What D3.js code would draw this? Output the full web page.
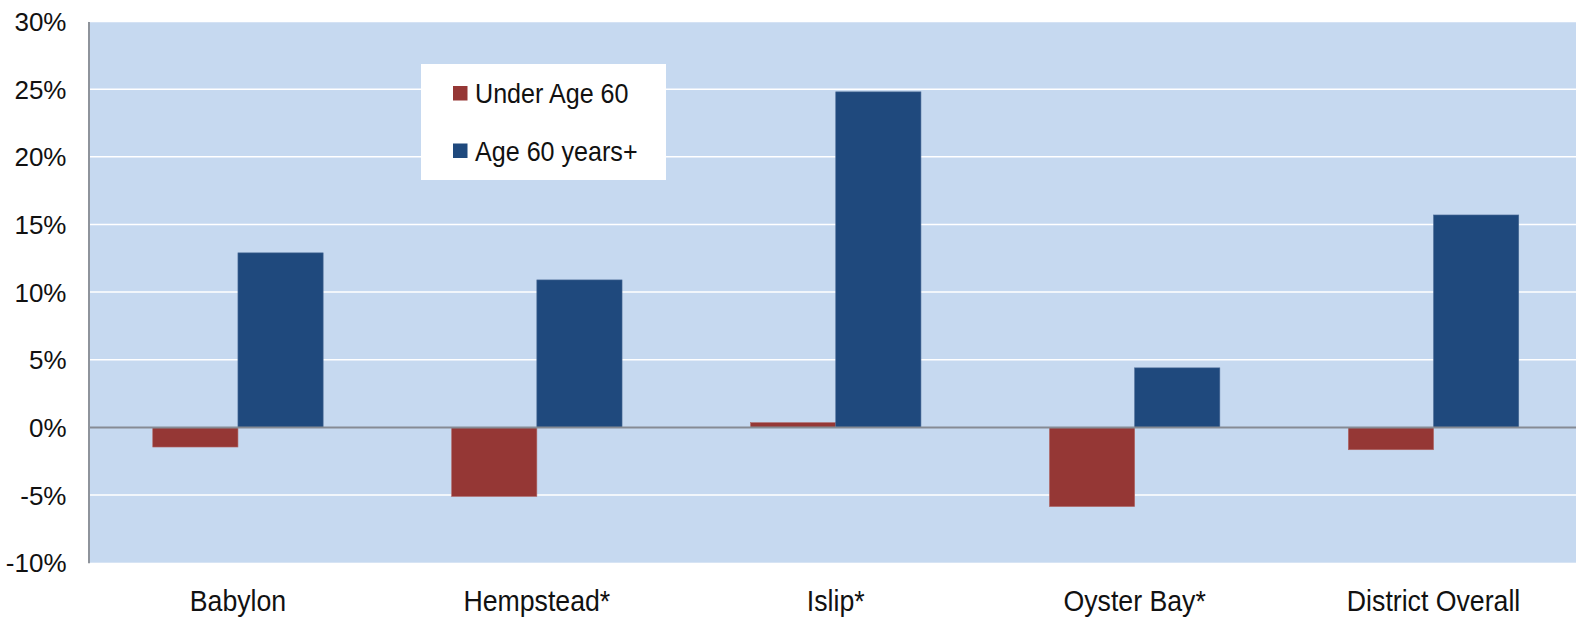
<!DOCTYPE html>
<html>
<head>
<meta charset="utf-8">
<script src="https://cdn.jsdelivr.net/npm/d3@7"></script>
<style>
  body { margin: 0; background: #fff; }
  svg text { font-family: "Liberation Sans", Arial, sans-serif; fill: #111; }
</style>
</head>
<body>
<div id="chart"></div>
<script>
// Data
var categories = ["Babylon", "Hempstead*", "Islip*", "Oyster Bay*", "District Overall"];
var seriesNames = ["Under Age 60", "Age 60 years+"];
var underAge60 = [-1.45, -5.1, 0.35, -5.85, -1.65];
var age60Plus = [12.9, 10.9, 24.8, 4.4, 15.7];
var yTicks = [-10, -5, 0, 5, 10, 15, 20, 25, 30];
var colors = ["#953735", "#1f497d"];

var width = 1576, height = 618;
var margin = {top: 21.5, right: -7, bottom: 55.3, left: 88.5};
var innerW = width - margin.left - margin.right;
var innerH = height - margin.top - margin.bottom;

var svg = d3.select('#chart').append('svg')
    .attr('width', width)
    .attr('height', height);

var graph = svg.append('g')
    .attr('transform', 'translate(' + margin.left + ',' + margin.top + ')');

var x = d3.scaleBand()
    .domain(categories)
    .range([0, innerW]);

var inner = d3.scaleBand()
    .domain(seriesNames)
    .range([x.bandwidth() * 0.215, x.bandwidth() * 0.785]);

var y = d3.scaleLinear()
    .domain([-10, 30])
    .range([innerH, 0]);

// Plot background
graph.append('rect')
    .attr('width', innerW)
    .attr('height', innerH)
    .attr('fill', '#c6d9f0');

// Gridlines
graph.append('g')
    .selectAll('line')
    .data(yTicks.filter(function(d) { return d !== 0 && d !== -10; }))
    .enter()
    .append('line')
    .attr('x1', 0).attr('x2', innerW)
    .attr('y1', function(d) { return y(d); })
    .attr('y2', function(d) { return y(d); })
    .attr('stroke', '#fff')
    .attr('stroke-width', 1.5);

// Bars
var rows = categories.map(function(c, i) {
    return {cat: c, values: [underAge60[i], age60Plus[i]]};
});

var groups = graph.selectAll('g.cat')
    .data(rows)
    .enter()
    .append('g')
    .attr('class', 'cat')
    .attr('transform', function(d) { return 'translate(' + x(d.cat) + ',0)'; });

groups.selectAll('rect')
    .data(function(d) {
        return d.values.map(function(v, j) { return {name: seriesNames[j], v: v, j: j}; });
    })
    .enter()
    .append('rect')
    .attr('x', function(d) { return inner(d.name); })
    .attr('width', inner.bandwidth())
    .attr('y', function(d) { return y(Math.max(0, d.v)); })
    .attr('height', function(d) { return Math.abs(y(d.v) - y(0)); })
    .attr('fill', function(d) { return colors[d.j]; })
    .attr('stroke', function(d) { return d.j === 0 ? '#b06563' : '#4a6b96'; })
    .attr('stroke-width', 0.6);

// Zero line
graph.append('line')
    .attr('x1', 0).attr('x2', innerW)
    .attr('y1', y(0)).attr('y2', y(0))
    .attr('stroke', '#868b94')
    .attr('stroke-width', 2);

// Y axis
var yAxis = d3.axisLeft(y)
    .tickValues(yTicks)
    .tickSize(0)
    .tickPadding(22)
    .tickFormat(function(d) { return d + '%'; });

var yG = graph.append('g').call(yAxis);
yG.select('.domain').attr('stroke', '#8e939b').attr('stroke-width', 2);
yG.selectAll('text')
    .style('font-size', '26px')
    .attr('dy', '0.35em');

// X axis labels (slightly condensed, like the original)
var xAxis = d3.axisBottom(x).tickSize(0).tickPadding(0);
var xG = graph.append('g')
    .attr('transform', 'translate(0,' + innerH + ')')
    .call(xAxis);
xG.select('.domain').remove();
xG.selectAll('text')
    .style('font-size', '30px')
    .attr('dy', 0)
    .attr('y', 48)
    .attr('transform', 'scale(0.89,1)')
    .attr('x', 0);

// Legend
var legend = svg.append('g').attr('transform', 'translate(421,64)');
legend.append('rect')
    .attr('width', 245)
    .attr('height', 116)
    .attr('fill', '#fff');

var items = legend.selectAll('g.item')
    .data(seriesNames)
    .enter()
    .append('g')
    .attr('class', 'item')
    .attr('transform', function(d, i) { return 'translate(32,' + (22 + i * 57.5) + ')'; });

items.append('rect')
    .attr('width', 14.5)
    .attr('height', 14.5)
    .attr('fill', function(d, i) { return colors[i]; });

items.append('text')
    .attr('transform', 'translate(22,17) scale(0.93,1)')
    .style('font-size', '27px')
    .text(function(d) { return d; });
</script>
</body>
</html>
